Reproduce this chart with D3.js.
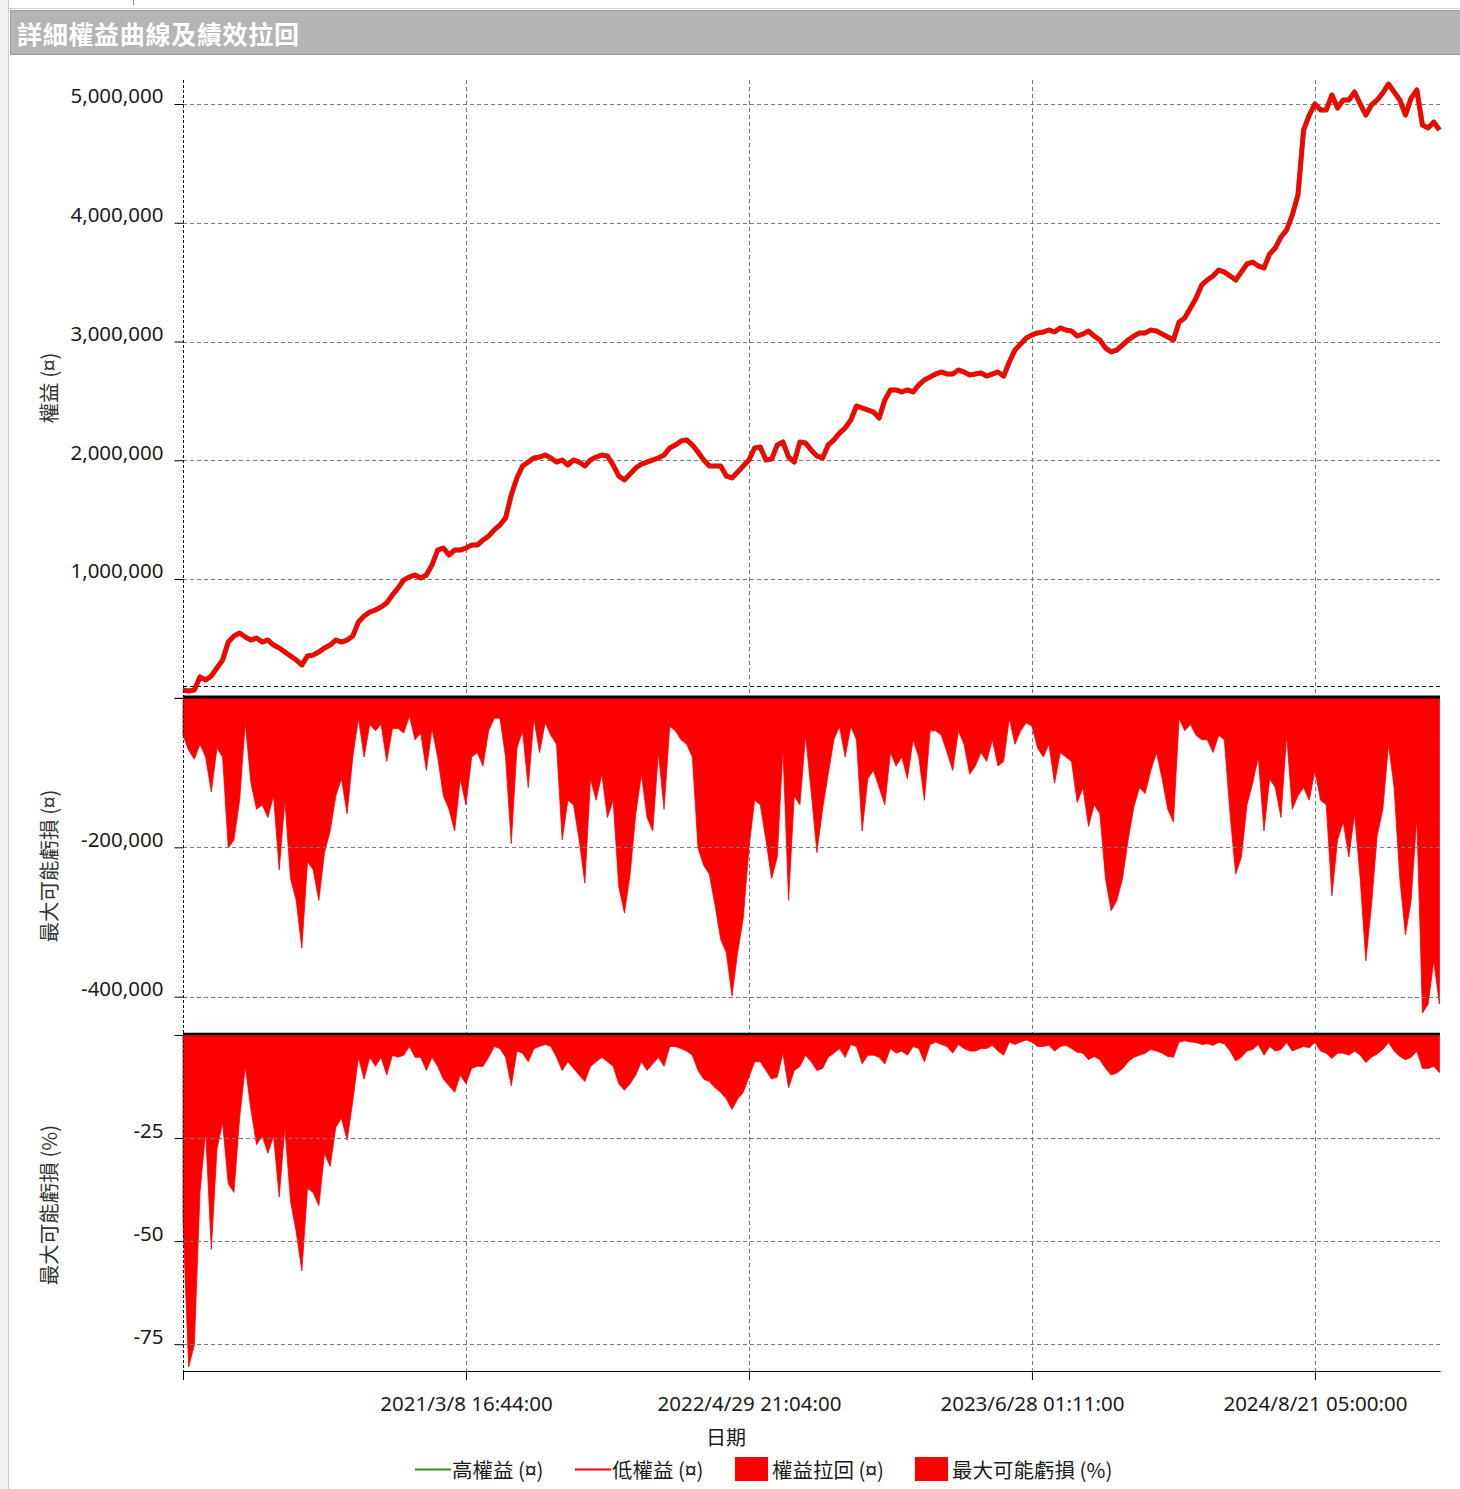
<!DOCTYPE html>
<html>
<head>
<meta charset="utf-8">
<script src="https://cdn.jsdelivr.net/npm/d3@7"></script>
<style>
body { margin: 0; background: #fff; }
svg { display: block; }
</style>
</head>
<body>
<div id="chart"></div>
<script>
// Data: one sample every 20 bars
var bar_step = 20;
var total_bars = 4442;
var tick_bars = [0, 1000, 2000, 3000, 4000];
var tick_labels = ['', '2021/3/8 16:44:00', '2022/4/29 21:04:00', '2023/6/28 01:11:00', '2024/8/21 05:00:00'];

var equity_ticks = [0, 1000000, 2000000, 3000000, 4000000, 5000000];
var drawdown_ticks = [0, -200000, -400000];
var percent_ticks = [0, -25, -50, -75];
var start_capital = 100000;

var legend_labels = ['高權益 (¤)', '低權益 (¤)', '權益拉回 (¤)', '最大可能虧損 (%)'];
var axis_titles = ['權益 (¤)', '最大可能虧損 (¤)', '最大可能虧損 (%)'];

var equity = [
	65000, 57000, 65000, 175000, 149000, 183000, 251000, 318000, 469000, 520000,
	545000, 512000, 486000, 503000, 469000, 486000, 444000, 419000, 385000, 352000,
	318000, 276000, 352000, 360000, 385000, 419000, 444000, 486000, 469000, 486000,
	520000, 638000, 688000, 722000, 739000, 764000, 798000, 865000, 924000, 992000,
	1017000, 1034000, 1008000, 1034000, 1118000, 1244000, 1261000, 1202000, 1244000, 1244000,
	1261000, 1286000, 1286000, 1328000, 1362000, 1413000, 1455000, 1514000, 1707000, 1851000,
	1952000, 1985000, 2019000, 2027000, 2044000, 2019000, 1985000, 2002000, 1960000, 2002000,
	1985000, 1952000, 2002000, 2027000, 2044000, 2036000, 1960000, 1867000, 1834000, 1884000,
	1935000, 1968000, 1985000, 2002000, 2019000, 2044000, 2103000, 2128000, 2162000, 2171000,
	2128000, 2069000, 2002000, 1952000, 1952000, 1952000, 1867000, 1851000, 1901000, 1952000,
	2002000, 2103000, 2112000, 2002000, 2010000, 2128000, 2154000, 2027000, 1985000, 2154000,
	2145000, 2086000, 2036000, 2019000, 2128000, 2171000, 2229000, 2272000, 2339000, 2457000,
	2440000, 2423000, 2406000, 2356000, 2507000, 2592000, 2592000, 2575000, 2592000, 2575000,
	2634000, 2676000, 2701000, 2726000, 2743000, 2726000, 2726000, 2760000, 2743000, 2718000,
	2726000, 2735000, 2709000, 2726000, 2743000, 2709000, 2827000, 2928000, 2979000, 3029000,
	3055000, 3072000, 3080000, 3097000, 3080000, 3114000, 3097000, 3088000, 3046000, 3063000,
	3088000, 3046000, 3013000, 2945000, 2912000, 2928000, 2970000, 3013000, 3046000, 3072000,
	3072000, 3097000, 3088000, 3063000, 3038000, 3013000, 3164000, 3198000, 3282000, 3366000,
	3476000, 3518000, 3552000, 3602000, 3585000, 3552000, 3518000, 3585000, 3653000, 3669000,
	3636000, 3619000, 3737000, 3787000, 3880000, 3939000, 4065000, 4234000, 4781000, 4907000,
	5000000, 4949000, 4949000, 5076000, 4966000, 5034000, 5034000, 5101000, 5000000, 4907000,
	4992000, 5034000, 5093000, 5168000, 5101000, 5034000, 4907000, 5050000, 5118000, 4823000,
	4798000, 4848000, 4781000
];

var drawdown = [
	-50000, -70000, -82000, -62000, -79000, -126000, -67000, -79000, -201000, -190000,
	-137000, -33000, -114000, -149000, -143000, -160000, -131000, -230000, -137000, -242000,
	-271000, -335000, -219000, -230000, -271000, -207000, -178000, -131000, -108000, -155000,
	-79000, -27000, -79000, -35000, -44000, -35000, -85000, -41000, -41000, -47000,
	-24000, -56000, -47000, -97000, -41000, -79000, -131000, -149000, -178000, -108000,
	-143000, -79000, -73000, -91000, -44000, -27000, -27000, -79000, -195000, -67000,
	-44000, -120000, -27000, -73000, -33000, -50000, -62000, -190000, -137000, -143000,
	-190000, -248000, -108000, -137000, -102000, -160000, -137000, -253000, -288000, -236000,
	-155000, -102000, -160000, -178000, -73000, -149000, -38000, -44000, -56000, -62000,
	-79000, -201000, -224000, -236000, -277000, -323000, -341000, -399000, -341000, -294000,
	-201000, -137000, -143000, -190000, -242000, -213000, -67000, -271000, -131000, -143000,
	-50000, -126000, -207000, -149000, -102000, -56000, -38000, -79000, -38000, -56000,
	-178000, -108000, -97000, -120000, -143000, -73000, -91000, -79000, -108000, -56000,
	-79000, -137000, -44000, -44000, -50000, -73000, -97000, -44000, -62000, -102000,
	-91000, -73000, -85000, -56000, -91000, -85000, -27000, -62000, -44000, -33000,
	-38000, -67000, -79000, -62000, -114000, -73000, -79000, -85000, -140000, -120000,
	-172000, -143000, -155000, -242000, -285000, -271000, -242000, -190000, -146000, -120000,
	-128000, -97000, -73000, -108000, -149000, -166000, -27000, -44000, -35000, -50000,
	-56000, -56000, -73000, -50000, -56000, -155000, -236000, -213000, -143000, -114000,
	-79000, -178000, -108000, -120000, -160000, -50000, -149000, -131000, -120000, -137000,
	-97000, -137000, -143000, -265000, -190000, -166000, -213000, -155000, -242000, -352000,
	-277000, -184000, -149000, -62000, -120000, -242000, -317000, -271000, -160000, -422000,
	-410000, -352000, -410000
];

var drawdown_pct = [
	-45.0, -80.5, -75.2, -38.2, -23.4, -52.0, -27.6, -21.3, -36.1, -38.2,
	-20.2, -7.6, -18.1, -26.6, -24.5, -28.7, -24.5, -39.3, -22.4, -40.3,
	-47.7, -57.2, -37.2, -38.2, -41.4, -28.7, -31.9, -22.4, -20.2, -25.5,
	-16.0, -5.4, -10.7, -5.4, -7.6, -5.4, -9.7, -4.9, -5.4, -4.9,
	-2.8, -5.4, -5.4, -8.6, -5.4, -7.6, -10.7, -12.3, -13.9, -9.7,
	-11.8, -8.1, -7.6, -7.6, -5.4, -2.8, -3.3, -5.4, -12.3, -3.9,
	-4.4, -6.5, -3.3, -2.8, -2.3, -2.8, -5.4, -8.6, -6.5, -8.1,
	-9.7, -11.3, -7.6, -6.5, -5.4, -6.5, -7.6, -11.8, -13.4, -11.8,
	-9.7, -6.5, -8.6, -7.0, -5.4, -7.6, -2.8, -2.8, -3.3, -3.9,
	-4.9, -8.6, -10.7, -11.3, -12.8, -13.9, -15.5, -18.1, -15.5, -13.9,
	-10.2, -6.5, -6.5, -8.6, -10.7, -10.2, -4.4, -12.8, -8.6, -7.6,
	-4.9, -6.5, -8.6, -8.1, -5.4, -4.4, -3.3, -5.4, -2.3, -2.8,
	-7.0, -4.9, -4.9, -5.4, -7.0, -3.3, -4.4, -3.9, -4.9, -2.8,
	-3.3, -6.5, -2.3, -1.7, -2.3, -2.8, -4.4, -2.3, -3.3, -3.9,
	-3.9, -3.3, -3.3, -2.5, -3.9, -4.9, -1.7, -2.3, -1.7, -1.2,
	-1.7, -2.8, -2.8, -2.5, -3.9, -2.8, -2.5, -3.3, -4.2, -4.4,
	-6.0, -5.2, -6.0, -8.1, -9.7, -9.2, -8.2, -6.5, -5.4, -4.9,
	-4.4, -3.5, -3.9, -4.4, -5.2, -5.4, -1.7, -1.4, -1.7, -1.8,
	-2.3, -2.1, -2.5, -1.8, -2.1, -3.9, -6.3, -5.4, -3.9, -3.5,
	-2.3, -4.9, -2.8, -3.9, -3.5, -1.8, -3.9, -3.3, -2.8, -3.1,
	-1.8, -3.9, -4.4, -5.7, -4.4, -4.4, -4.9, -3.9, -4.9, -6.7,
	-5.4, -4.6, -3.5, -1.8, -3.9, -5.2, -6.0, -5.4, -3.9, -8.1,
	-8.1, -7.6, -9.1
];

// The SVG
var chart_width = 1460;
var chart_height = 1489;
var plot_left = 183;
var plot_right = 1440;
var plot_top = 80;
var plot_bottom = 1371;

var svg = d3.select('#chart')
	.append('svg')
	.attr('width', chart_width)
	.attr('height', chart_height)
	.style('font-family', "'Noto Sans', 'Noto Sans CJK TC', sans-serif");

// Scales
var x = d3.scaleLinear().domain([0, total_bars]).range([plot_left, plot_right]);
var y_equity = d3.scaleLinear().domain([0, 5200000]).range([697.75, 80.25]);
var y_drawdown = d3.scaleLinear().domain([-450000, 0]).range([1034, 698]);
var y_percent = d3.scaleLinear().domain([-81.5, 0]).range([1371, 1035]);

function bar_x(d, i) {
	return x(i * bar_step);
}

// Window frame and title
svg.append('rect').attr('x', 0).attr('y', 0).attr('width', 8).attr('height', chart_height).attr('fill', '#f0f0f0');
svg.append('line').attr('x1', 8.5).attr('y1', 0).attr('x2', 8.5).attr('y2', chart_height).attr('stroke', '#cfcfcf');
svg.append('line').attr('x1', 8).attr('y1', 8.5).attr('x2', chart_width).attr('y2', 8.5).attr('stroke', '#cfcfcf');
svg.append('line').attr('x1', 133.5).attr('y1', 0).attr('x2', 133.5).attr('y2', 5).attr('stroke', '#999');

svg.append('rect')
	.attr('x', 10.5).attr('y', 10.5)
	.attr('width', chart_width - 10).attr('height', 44)
	.attr('fill', '#b4b4b4')
	.attr('stroke', '#9c9c9c');

svg.append('text')
	.attr('x', 17)
	.attr('y', 33)
	.attr('dominant-baseline', 'central')
	.attr('fill', '#fff')
	.attr('font-size', 25)
	.attr('font-weight', 'bold')
	.attr('letter-spacing', 0.7)
	.attr('font-family', "'Noto Sans CJK TC', sans-serif")
	.text('詳細權益曲線及績效拉回');

// Vertical grid
svg.append('g')
	.selectAll('line')
	.data(tick_bars.slice(1))
	.enter()
	.append('line')
	.attr('x1', function(d){ return Math.round(x(d)) + 0.5; })
	.attr('x2', function(d){ return Math.round(x(d)) + 0.5; })
	.attr('y1', plot_top)
	.attr('y2', plot_bottom)
	.attr('stroke', '#7a7a7a')
	.attr('stroke-dasharray', '4,3');

// Drawdown areas
var drawdown_area = d3.area()
	.x(bar_x)
	.y0(y_drawdown(0))
	.y1(function(d){ return y_drawdown(d); });

svg.append('path')
	.datum(drawdown)
	.attr('d', drawdown_area)
	.attr('fill', 'red')
	.attr('stroke', 'red')
	.attr('stroke-width', 0.8);

var percent_area = d3.area()
	.x(bar_x)
	.y0(y_percent(0))
	.y1(function(d){ return y_percent(d); });

svg.append('path')
	.datum(drawdown_pct)
	.attr('d', percent_area)
	.attr('fill', 'red')
	.attr('stroke', 'red')
	.attr('stroke-width', 0.8);

// Horizontal grid
function add_grid(scale, ticks) {
	svg.append('g')
		.selectAll('line')
		.data(ticks.filter(function(d){ return d !== 0; }))
		.enter()
		.append('line')
		.attr('x1', plot_left)
		.attr('x2', plot_right)
		.attr('y1', function(d){ return Math.round(scale(d)) + 0.5; })
		.attr('y2', function(d){ return Math.round(scale(d)) + 0.5; })
		.attr('stroke', '#7a7a7a')
		.attr('stroke-dasharray', '4,3');
}
add_grid(y_equity, equity_ticks);
add_grid(y_drawdown, drawdown_ticks);
add_grid(y_percent, percent_ticks);

// start capital line
svg.append('line')
	.attr('x1', plot_left)
	.attr('x2', plot_right)
	.attr('y1', Math.round(y_equity(start_capital)) + 0.5)
	.attr('y2', Math.round(y_equity(start_capital)) + 0.5)
	.attr('stroke', '#000')
	.attr('stroke-dasharray', '4,3');

// Equity lines
var equity_line = d3.line()
	.x(bar_x)
	.y(function(d){ return y_equity(d); });

svg.append('path')
	.datum(equity)
	.attr('d', equity_line)
	.attr('fill', 'none')
	.attr('stroke', '#2f8f2f')
	.attr('stroke-width', 5)
	.attr('stroke-linejoin', 'round');

svg.append('path')
	.datum(equity)
	.attr('d', equity_line)
	.attr('fill', 'none')
	.attr('stroke', 'red')
	.attr('stroke-width', 4.6)
	.attr('stroke-linejoin', 'round');

// Panel dividers
svg.append('line')
	.attr('x1', plot_left).attr('x2', plot_right)
	.attr('y1', 697).attr('y2', 697)
	.attr('stroke', '#000').attr('stroke-width', 3);
svg.append('line')
	.attr('x1', plot_left).attr('x2', plot_right)
	.attr('y1', 1034).attr('y2', 1034)
	.attr('stroke', '#000').attr('stroke-width', 2.5);

// Left axis line
svg.append('line')
	.attr('x1', plot_left + 0.5).attr('x2', plot_left + 0.5)
	.attr('y1', plot_top).attr('y2', plot_bottom)
	.attr('stroke', '#000')
	.attr('stroke-dasharray', '3,2');

// Y axes
var locale = d3.formatLocale({ decimal: '.', thousands: ',', grouping: [3], currency: ['', ''], minus: '-' });
var number_format = locale.format(',');
function add_y_axis(scale, ticks) {
	var axis = d3.axisLeft(scale)
		.tickValues(ticks)
		.tickFormat(function(d){ return d === 0 ? '' : number_format(d); })
		.tickSize(9)
		.tickPadding(11);
	var g = svg.append('g')
		.attr('transform', 'translate(' + (plot_left + 0.5) + ',0)')
		.call(axis);
	g.select('.domain').remove();
	g.selectAll('.tick line').attr('stroke', '#000');
	g.selectAll('.tick text')
		.attr('dy', '-0.05em')
		.attr('fill', '#1a1a1a')
		.attr('font-size', 20.5)
		.attr('font-family', "'Noto Sans', sans-serif");
}
add_y_axis(y_equity, equity_ticks);
add_y_axis(y_drawdown, drawdown_ticks);
add_y_axis(y_percent, percent_ticks);

// X axis
var x_axis = d3.axisBottom(x)
	.tickValues(tick_bars)
	.tickFormat(function(d, i){ return tick_labels[i]; })
	.tickSize(9)
	.tickSizeOuter(0);

var x_g = svg.append('g')
	.attr('transform', 'translate(0,' + plot_bottom + ')')
	.call(x_axis);
x_g.select('.domain').attr('stroke', '#000');
x_g.selectAll('.tick line').attr('stroke', '#000');
x_g.selectAll('.tick text')
	.attr('y', 40)
	.attr('dy', 0)
	.attr('fill', '#1a1a1a')
	.attr('font-size', 20.5)
	.attr('font-family', "'Noto Sans', sans-serif");

svg.append('text')
	.attr('x', 726)
	.attr('y', 1445)
	.attr('text-anchor', 'middle')
	.attr('fill', '#1a1a1a')
	.attr('font-size', 20)
	.attr('font-family', "'Noto Sans CJK TC', sans-serif")
	.text('日期');

// Axis titles
var title_centers = [388, 866, 1205];
axis_titles.forEach(function(t, i){
	svg.append('text')
		.attr('transform', 'translate(48,' + title_centers[i] + ') rotate(-90)')
		.attr('text-anchor', 'middle')
		.attr('dominant-baseline', 'central')
		.attr('fill', '#333')
		.attr('font-size', 20.5)
		.attr('font-family', "'Noto Sans CJK TC', sans-serif")
		.text(t);
});

// Legend
var legend = svg.append('g')
	.attr('font-size', 20.5)
	.attr('font-family', "'Noto Sans CJK TC', sans-serif")
	.attr('fill', '#1a1a1a');

var legend_items = [
	{ kind: 'line', color: '#2f8f2f', x: 415 },
	{ kind: 'line', color: 'red', x: 575 },
	{ kind: 'box', color: 'red', x: 735 },
	{ kind: 'box', color: 'red', x: 915 }
];

legend_items.forEach(function(item, i){
	if (item.kind === 'line') {
		legend.append('line')
			.attr('x1', item.x).attr('x2', item.x + 36)
			.attr('y1', 1469.5).attr('y2', 1469.5)
			.attr('stroke', item.color)
			.attr('stroke-width', 2);
	} else {
		legend.append('rect')
			.attr('x', item.x).attr('y', 1457)
			.attr('width', 33).attr('height', 24)
			.attr('fill', item.color);
	}
	legend.append('text')
		.attr('x', item.x + 37)
		.attr('y', 1469)
		.attr('dominant-baseline', 'central')
		.text(legend_labels[i]);
});
</script>
</body>
</html>
